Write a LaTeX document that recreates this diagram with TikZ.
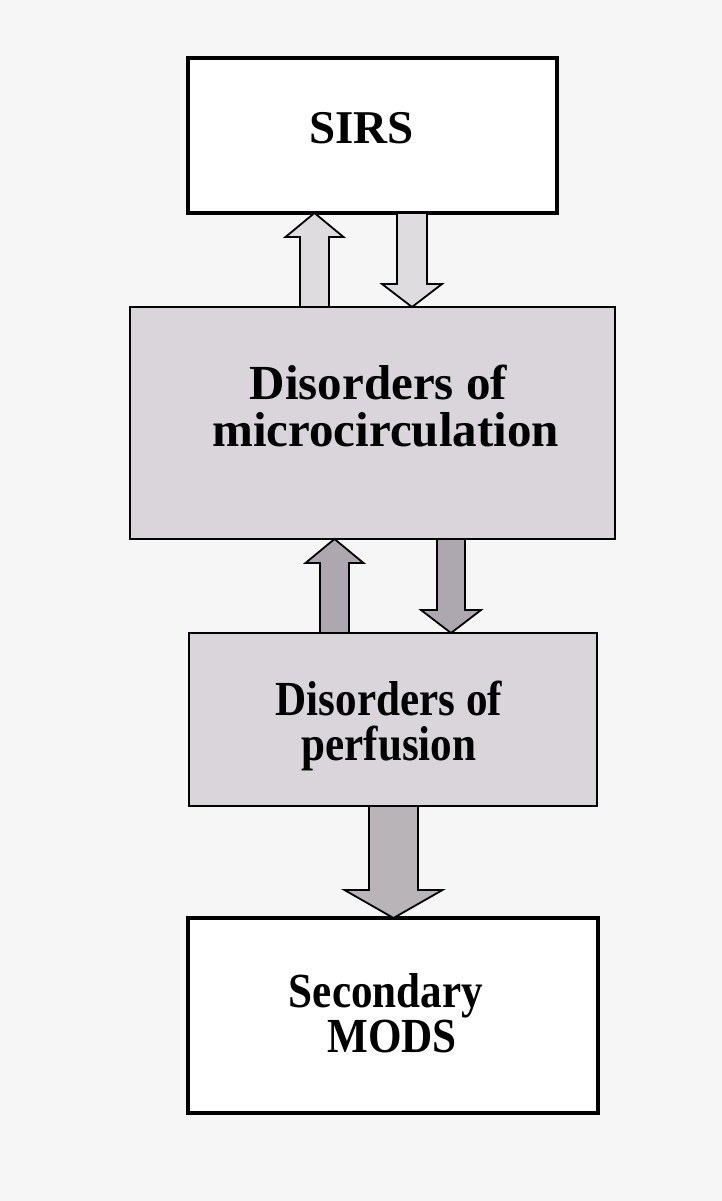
\documentclass[tikz,border=0pt]{standalone}
\usepackage{fontspec}
\setmainfont{Liberation Serif}
\newfontfamily\condserif[FakeStretch=0.88]{Liberation Serif}
\usetikzlibrary{calc}
\definecolor{bgc}{HTML}{F7F6F7}
\definecolor{boxgray}{HTML}{D9D5DA}
\definecolor{arrlight}{HTML}{DEDCDE}
\definecolor{arrmid}{HTML}{ADA8B0}
\definecolor{arrdark}{HTML}{B8B4B8}
\tikzset{
  thickbox/.style={draw=black, line width=4pt, fill=white, outer sep=0pt, inner sep=0pt, anchor=north west},
  thinbox/.style={draw=black, line width=1.8pt, fill=boxgray, outer sep=0pt, inner sep=0pt, anchor=north west},
  lbl/.style={align=center, inner sep=0pt, anchor=center},
  fatarr/.style={draw=black, line width=1.8pt, line join=miter}
}
% #1 colour, #2 centre x, #3 from, #4 to, #5 half shaft, #6 half head, #7 head length
\newcommand\fatarrow[7]{%
  \draw[fatarr, fill=#1] let \p1=(#3), \p2=(#4), \n1={sign(\y1-\y2)} in
    ({(#2-#5)*1pt},\y1) -- ({(#2-#5)*1pt},{\y2+\n1*#7*1pt}) -- ({(#2-#6)*1pt},{\y2+\n1*#7*1pt})
    -- ({#2*1pt},\y2) -- ({(#2+#6)*1pt},{\y2+\n1*#7*1pt}) -- ({(#2+#5)*1pt},{\y2+\n1*#7*1pt})
    -- ({(#2+#5)*1pt},\y1) -- cycle;}
\begin{document}
\begin{tikzpicture}[x=1pt,y=-1pt]
\fill[bgc] (0,0) rectangle (722,1201);
\useasboundingbox (0,0) rectangle (722,1201);
\node[thickbox, minimum width=369pt, minimum height=155pt] (sirs) at (188,58) {};
\node[thinbox, minimum width=485pt, minimum height=232pt] (micro) at (130,307) {};
\node[thinbox, minimum width=408pt, minimum height=173pt] (perf) at (189,633) {};
\node[thickbox, minimum width=410pt, minimum height=195pt] (mods) at (188,918) {};
\node[lbl, font=\bfseries\fontsize{47}{52}\selectfont] (sirst) at ($(sirs.center)+(-11,-7)$) {SIRS};
\node[lbl, font=\bfseries\fontsize{49}{47}\selectfont] (microt) at ($(micro.center)+(13,-17)$) {Disorders of\kern14pt\\microcirculation};
\node[lbl, font=\condserif\bfseries\fontsize{49}{45}\selectfont] (perft) at ($(perf.center)+(-4,6)$) {Disorders of\\perfusion};
\node[lbl, font=\condserif\bfseries\fontsize{49}{45}\selectfont] (modst) at ($(mods.center)+(-7,-2)$) {Secondary\\\kern12pt MODS};
\fatarrow{arrlight}{314.5}{micro.north}{sirs.south}{14.5}{29}{24}
\fatarrow{arrlight}{412}{sirs.south}{micro.north}{15}{30}{23}
\fatarrow{arrmid}{334.5}{perf.north}{micro.south}{14.5}{29}{24}
\fatarrow{arrmid}{451}{micro.south}{perf.north}{14}{30}{23}
\fatarrow{arrdark}{393.5}{perf.south}{mods.north}{24.5}{49}{28}
\end{tikzpicture}
\end{document}
